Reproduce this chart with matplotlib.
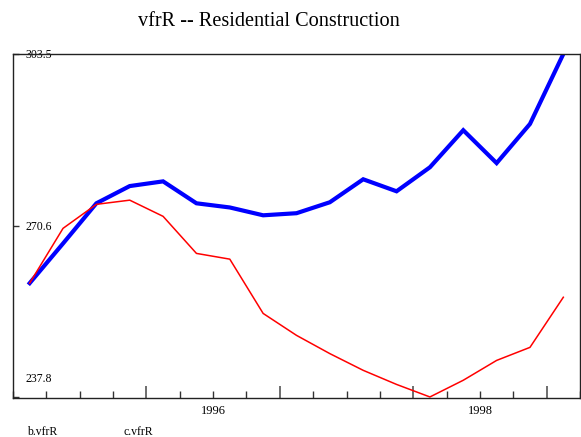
import matplotlib
matplotlib.use("Agg")
import matplotlib.pyplot as plt
import matplotlib.transforms as mtransforms
from matplotlib.ticker import MultipleLocator, FixedLocator, FuncFormatter
import numpy as np

plt.rcParams['font.family'] = ['Liberation Serif', 'DejaVu Serif']

# Quarterly data 1995Q1 .. 1999Q1 (plotted at mid-quarter)
quarters = [1995.125 + 0.25 * i for i in range(17)]
b_vfrR = [259.6, 267.2, 274.9, 278.2, 279.1, 274.9, 274.1, 272.6, 273.0,
          275.1, 279.5, 277.2, 281.8, 288.9, 282.6, 290.1, 303.5]
c_vfrR = [259.6, 270.1, 274.7, 275.5, 272.4, 265.3, 264.2, 253.8, 249.6,
          246.1, 242.9, 240.2, 237.8, 241.0, 244.8, 247.3, 256.9]
ytick_vals = [237.8, 270.6, 303.5]
ytick_labels = ["237.8", "270.6", "303.5"]
xlabel_years = {1996.5: "1996", 1998.5: "1998"}

W, H = 581, 437
fig = plt.figure(figsize=(W / 100, H / 100), dpi=100)
ax = fig.add_axes([13 / W, 1 - 398 / H, 567 / W, 344 / H])

lb, = ax.plot(quarters, b_vfrR, color='#0000ff', lw=3.0, solid_joinstyle='miter', label='b.vfrR')
lc, = ax.plot(quarters, c_vfrR, color='#ff0000', lw=1.1, label='c.vfrR')

ax.set_xlim(1995.0, 1999.25)
ax.set_ylim(237.6, 303.5)

# x ticks: major at year boundaries, minor at quarters; labels at mid-year
ax.xaxis.set_major_locator(FixedLocator([1996, 1997, 1998, 1999]))
ax.xaxis.set_major_formatter(FuncFormatter(lambda v, p: ""))
ax.xaxis.set_minor_locator(MultipleLocator(0.25))
ax.xaxis.set_minor_formatter(FuncFormatter(lambda v, p: xlabel_years.get(round(v * 4) / 4, "")))
ax.tick_params(axis='x', which='major', direction='in', length=9, width=1.2, color='#555555')
ax.tick_params(axis='x', which='minor', direction='in', length=5, width=1.0, color='#333333',
               labelsize=9, pad=5)

ax.set_yticks(ytick_vals, ytick_labels)
ax.tick_params(axis='y', which='major', direction='in', length=4, width=1.0, color='#333333',
               labelsize=8.5, pad=-9)
for lab in ax.get_yticklabels():
    lab.set_horizontalalignment('left')
ylabs = ax.get_yticklabels()
ylabs[0].set_transform(ylabs[0].get_transform() +
                       mtransforms.ScaledTranslation(0, 19 / 100, fig.dpi_scale_trans))

for s in ax.spines.values():
    s.set_linewidth(1.0)
    s.set_color('#222222')

ax.set_title("vfrR -- Residential Construction", fontsize=14.6, x=(268.5 - 13) / 567, pad=20.5)

fig.legend(handles=[lb, lc], loc='lower left', bbox_to_anchor=(22 / W, -0.012),
           ncol=2, frameon=False, handlelength=0, handletextpad=0,
           columnspacing=5.6, fontsize=8.5,
           borderaxespad=0.0)
leg = fig.legends[0]
for h in leg.legend_handles:
    h.set_visible(False)

fig.savefig("out.png", dpi=100)
